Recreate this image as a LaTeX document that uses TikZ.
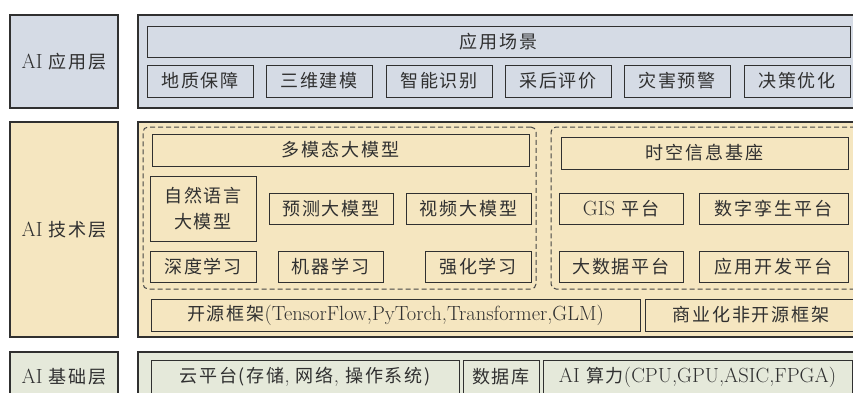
\documentclass[tikz,border=0pt]{standalone}
\usepackage{fontspec}
\newfontfamily\cjk[LetterSpace=10,Scale=0.88]{Noto Sans CJK SC}
\newcommand{\zh}[1]{{\cjk #1}}
\definecolor{appfill}{HTML}{D5DBE5}
\definecolor{techfill}{HTML}{F5E6C0}
\definecolor{basefill}{HTML}{E5E9DA}
\definecolor{edge}{HTML}{303030}
\begin{document}
\begin{tikzpicture}[x=1pt,y=-1pt,
    every node/.style={draw=edge,line width=.9pt,inner sep=0pt,text=edge,
      font=\fontsize{20.5}{26}\selectfont,align=center},
    layer/.style={line width=1.2pt},
    dashbox/.style={dash pattern=on 5pt off 3pt,rounded corners=5pt,draw=edge!90,line width=1pt}]
\useasboundingbox (0,0) rectangle (853,392);
\clip (0,0) rectangle (853,392);
% AI application layer
\node[layer,fill=appfill,minimum width=108pt,minimum height=93pt] (applbl) at (64,61.5) {AI \zh{应用层}};
\node[layer,fill=appfill,minimum width=724pt,minimum height=93pt] (appbg) at (500,61.5) {};
\node[minimum width=703pt,minimum height=31pt] (scene) at (498.5,41.5) {\zh{应用场景}};
\node[minimum width=106pt,minimum height=32pt] (geo) at (200,81) {\zh{地质保障}};
\node[minimum width=106pt,minimum height=32pt] (model3d) at (319,81) {\zh{三维建模}};
\node[minimum width=106pt,minimum height=32pt] (recog) at (439,81) {\zh{智能识别}};
\node[minimum width=106pt,minimum height=32pt] (eval) at (558,81) {\zh{采后评价}};
\node[minimum width=106pt,minimum height=32pt] (warn) at (677,81) {\zh{灾害预警}};
\node[minimum width=106pt,minimum height=32pt] (decide) at (797,81) {\zh{决策优化}};
% AI technology layer
\node[layer,fill=techfill,minimum width=108pt,minimum height=215pt] (techlbl) at (64,229.5) {AI \zh{技术层}};
\node[layer,fill=techfill,minimum width=724pt,minimum height=215pt] (techbg) at (500,229.5) {};
\node[dashbox,minimum width=393pt,minimum height=162pt] (dashL) at (339.5,208) {};
\node[dashbox,minimum width=309pt,minimum height=162pt] (dashR) at (705.5,208) {};
\node[minimum width=377pt,minimum height=32pt] (multi) at (340.5,150) {\zh{多模态大模型}};
\node[minimum width=106pt,minimum height=65pt] (nlp) at (203,208.5) {\zh{自然语言}\\\zh{大模型}};
\node[minimum width=124pt,minimum height=31pt] (pred) at (331,208.5) {\zh{预测大模型}};
\node[minimum width=125pt,minimum height=31pt] (video) at (468.5,208.5) {\zh{视频大模型}};
\node[minimum width=106pt,minimum height=31pt] (deep) at (203,266.5) {\zh{深度学习}};
\node[minimum width=105pt,minimum height=31pt] (ml) at (330.5,266.5) {\zh{机器学习}};
\node[minimum width=106pt,minimum height=31pt] (rl) at (478,266.5) {\zh{强化学习}};
\node[minimum width=287pt,minimum height=32pt] (spatial) at (704.5,153) {\zh{时空信息基座}};
\node[minimum width=124pt,minimum height=31pt] (gis) at (621,208.5) {GIS \zh{平台}};
\node[minimum width=149pt,minimum height=31pt] (twin) at (773.5,208.5) {\zh{数字孪生平台}};
\node[minimum width=124pt,minimum height=31pt] (bigdata) at (621,266.5) {\zh{大数据平台}};
\node[minimum width=149pt,minimum height=31pt] (devp) at (773.5,266.5) {\zh{应用开发平台}};
\node[minimum width=489pt,minimum height=32pt] (open) at (395.5,315) {\zh{开源框架}(TensorFlow,PyTorch,Transformer,GLM)};
\node[minimum width=212pt,minimum height=32pt] (comm) at (751,315) {\zh{商业化非开源框架}};
% AI foundation layer
\node[layer,fill=basefill,minimum width=108pt,minimum height=50pt] (baselbl) at (64,377) {AI \zh{基础层}};
\node[layer,fill=basefill,minimum width=724pt,minimum height=50pt] (basebg) at (500,377) {};
\node[minimum width=308pt,minimum height=34pt] (cloud) at (305,377) {\zh{云平台(存储}, \zh{网络}, \zh{操作系统)}};
\node[minimum width=76pt,minimum height=34pt] (db) at (501,377) {\zh{数据库}};
\node[minimum width=309pt,minimum height=34pt] (compute) at (697.5,377) {AI \zh{算力}(CPU,GPU,ASIC,FPGA)};
\end{tikzpicture}
\end{document}
